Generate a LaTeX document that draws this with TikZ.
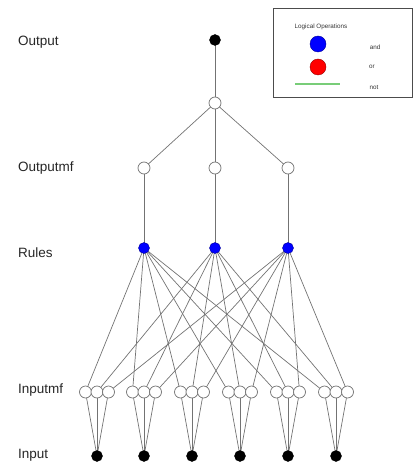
\documentclass[tikz,border=0pt]{standalone}
\usepackage{fontspec}
\setmainfont{Liberation Sans}
\usetikzlibrary{backgrounds}
\definecolor{notgreen}{RGB}{120,205,120}
\begin{document}
\begin{tikzpicture}[x=1pt,y=-1pt,
  line/.style={draw=black!55,line width=0.7pt},
  wnode/.style={circle,draw=black!55,fill=white,line width=0.7pt,minimum size=12pt,inner sep=0pt},
  bnode/.style={circle,draw=black,fill=black,minimum size=11pt,inner sep=0pt},
  rnode/.style={circle,draw=blue!60!black,fill=blue,minimum size=11pt,inner sep=0pt},
  lab/.style={font=\fontsize{13.5}{15}\selectfont,anchor=west,inner sep=0pt,text=black!85},
  leg/.style={font=\fontsize{6.3}{7}\selectfont,inner sep=0pt,text=black!80}]
\useasboundingbox (0,0) rectangle (414,473);
% labels
\node[lab] (lout) at (18,42) {Output};
\node[lab] (loutmf) at (18,168) {Outputmf};
\node[lab] (lrules) at (18,253) {Rules};
\node[lab] (linmf) at (18,390) {Inputmf};
\node[lab] (lin) at (18,455) {Input};
% legend
\node[draw=black!70,line width=0.8pt,minimum width=139pt,minimum height=89pt,inner sep=0pt] (legbox) at (342.5,52.5) {};
\node[leg] (legt) at (321,27) {Logical Operations};
\node[circle,draw=blue!60!black,fill=blue,minimum size=16pt,inner sep=0pt] (legand) at (318,44) {};
\node[circle,draw=red!60!black,fill=red,minimum size=16pt,inner sep=0pt] (legor) at (318,67) {};
\coordinate (lgA) at (295,84);
\coordinate (lgB) at (340,84);
\draw[notgreen,line width=1.2pt] (lgA) -- (lgB);
\node[leg] (tand) at (375,47) {and};
\node[leg] (tor) at (372,67) {or};
\node[leg] (tnot) at (374,87) {not};
% nodes
\node[bnode] (out) at (215,40) {};
\node[wnode] (agg) at (215,103) {};
\foreach \i/\x in {1/144,2/215,3/288}{
  \node[wnode] (omf\i) at (\x,168) {};
  \node[rnode] (r\i) at (\x,248) {};
}
\foreach \g/\x in {1/97,2/144,3/192,4/240,5/288,6/336}{
  \node[bnode] (in\g) at (\x,456) {};
  \node[wnode] (m\g-1) at (\x-11.5,392) {};
  \node[wnode] (m\g-2) at (\x,392) {};
  \node[wnode] (m\g-3) at (\x+11.5,392) {};
}
% edges
\begin{scope}[on background layer]
\draw[line] (out.center) -- (agg.center);
\foreach \i in {1,2,3}{
  \draw[line] (agg.center) -- (omf\i.center);
  \draw[line] (omf\i.center) -- (r\i.center);
  \foreach \g in {1,...,6}{
    \draw[line] (r\i.center) -- (m\g-\i.center);
  }
}
\foreach \g in {1,...,6}{
  \foreach \k in {1,2,3}{
    \draw[line] (in\g.center) -- (m\g-\k.center);
  }
}
\end{scope}
\end{tikzpicture}
\end{document}
